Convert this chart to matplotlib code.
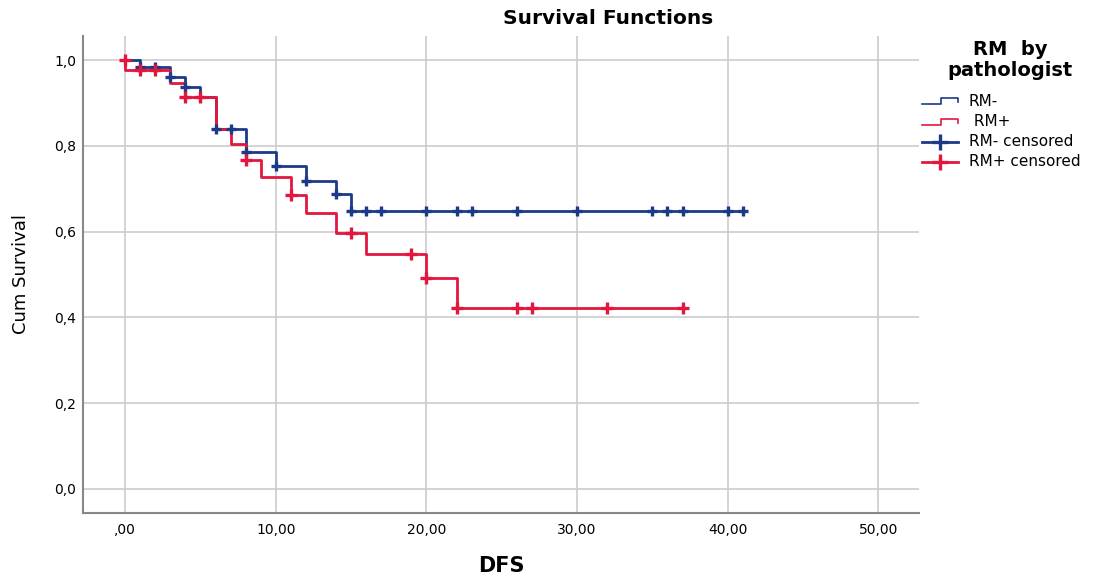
import matplotlib
matplotlib.use("Agg")
import matplotlib.pyplot as plt
from matplotlib.lines import Line2D
import numpy as np

plt.rcParams['font.family'] = ['DejaVu Sans']

# ---- data ----
neg_times = [0, 1, 3, 4, 5, 6, 8, 10, 12, 14, 15]
neg_surv = [1.0, 0.984, 0.961, 0.938, 0.914, 0.839, 0.786, 0.753, 0.719, 0.687, 0.648]
neg_end = 41
neg_cens_t = [1, 2, 3, 4, 6, 7, 8, 10, 12, 14, 15, 16, 17, 20, 22, 23, 26, 30, 35, 36, 37, 40, 41]
neg_cens_s = [0.984, 0.984, 0.961, 0.938, 0.839, 0.839, 0.786, 0.753, 0.719, 0.687] + [0.648] * 13

pos_times = [0, 0, 3, 4, 6, 7, 8, 9, 11, 12, 14, 16, 20, 22]
pos_surv = [1.0, 0.977, 0.947, 0.914, 0.839, 0.804, 0.767, 0.728, 0.685, 0.643, 0.597, 0.548, 0.493, 0.421]
pos_end = 37
pos_cens_t = [0, 1, 2, 4, 5, 8, 11, 15, 19, 20, 22, 26, 27, 32, 37]
pos_cens_s = [1.0, 0.977, 0.977, 0.914, 0.914, 0.767, 0.685, 0.597, 0.548, 0.493, 0.421, 0.421, 0.421, 0.421, 0.421]

x_ticks = [0, 10, 20, 30, 40, 50]
x_ticklabels = [',00', '10,00', '20,00', '30,00', '40,00', '50,00']
y_ticks = [0.0, 0.2, 0.4, 0.6, 0.8, 1.0]
y_ticklabels = ['0,0', '0,2', '0,4', '0,6', '0,8', '1,0']

BLUE = '#1c3a87'
RED = '#e3173e'

W, H = 1098, 576
fig = plt.figure(figsize=(W / 100, H / 100), dpi=100)
ax = fig.add_axes([83 / W, 1 - 513 / H, (919 - 83) / W, (513 - 36) / H])

ax.step(neg_times + [neg_end], neg_surv + [neg_surv[-1]], where='post', color=BLUE, lw=2, zorder=3)
ax.step(pos_times + [pos_end], pos_surv + [pos_surv[-1]], where='post', color=RED, lw=2, zorder=4)
ax.plot(neg_cens_t, neg_cens_s, ls='none', marker='+', ms=7.5, mew=2.4, color=BLUE, zorder=5)
ax.plot(pos_cens_t, pos_cens_s, ls='none', marker='+', ms=8.5, mew=2.4, color=RED, zorder=6)

ax.set_xlim(-2.8, 52.7)
ax.set_ylim(-0.056, 1.056)
ax.set_xticks(x_ticks)
ax.set_xticklabels(x_ticklabels, fontsize=10)
ax.set_yticks(y_ticks)
ax.set_yticklabels(y_ticklabels, fontsize=10)
ax.tick_params(length=0)
ax.tick_params(axis='x', pad=7)
ax.tick_params(axis='y', pad=5)
ax.grid(True, color='#cccccc', lw=1.2)
ax.set_axisbelow(True)
for s in ['top', 'right']:
    ax.spines[s].set_visible(False)
for s in ['left', 'bottom']:
    ax.spines[s].set_color('#888888')
    ax.spines[s].set_linewidth(1.5)

ax.set_ylabel('Cum Survival', fontsize=13, labelpad=17)
ax.set_xlabel('DFS', fontsize=15, fontweight='bold', labelpad=14)
fig.text(608 / W, 1 - 19 / H, 'Survival Functions', fontsize=14.5, fontweight='bold',
         ha='center', va='center')

# ---- legend ----
fig.text(1010 / W, 1 - 60 / H, 'RM  by\npathologist', fontsize=14, fontweight='bold',
         ha='center', va='center', linespacing=1.08)

def fx(px):
    return px / W

def fy(py):
    return 1 - py / H

entries = [(101, BLUE, 'step', 'RM-'), (122, RED, 'step', ' RM+'),
           (142, BLUE, 'cens', 'RM- censored'), (162, RED, 'cens', 'RM+ censored')]
for py, col, kind, label in entries:
    if kind == 'step':
        xs = [922, 941, 941, 958, 958]
        ys = [py + 3, py + 3, py - 3, py - 3, py + 1]
        fig.add_artist(Line2D([fx(v) for v in xs], [fy(v) for v in ys], color=col, lw=1.2,
                              transform=fig.transFigure))
    else:
        fig.add_artist(Line2D([fx(922), fx(958)], [fy(py), fy(py)], color=col, lw=2,
                              transform=fig.transFigure))
        fig.add_artist(Line2D([fx(940)], [fy(py)], color=col, marker='+', ms=12, mew=2.4,
                              ls='none', transform=fig.transFigure))
    fig.text(fx(969), fy(py), label, fontsize=11, ha='left', va='center')

fig.savefig('out.png', dpi=100)
